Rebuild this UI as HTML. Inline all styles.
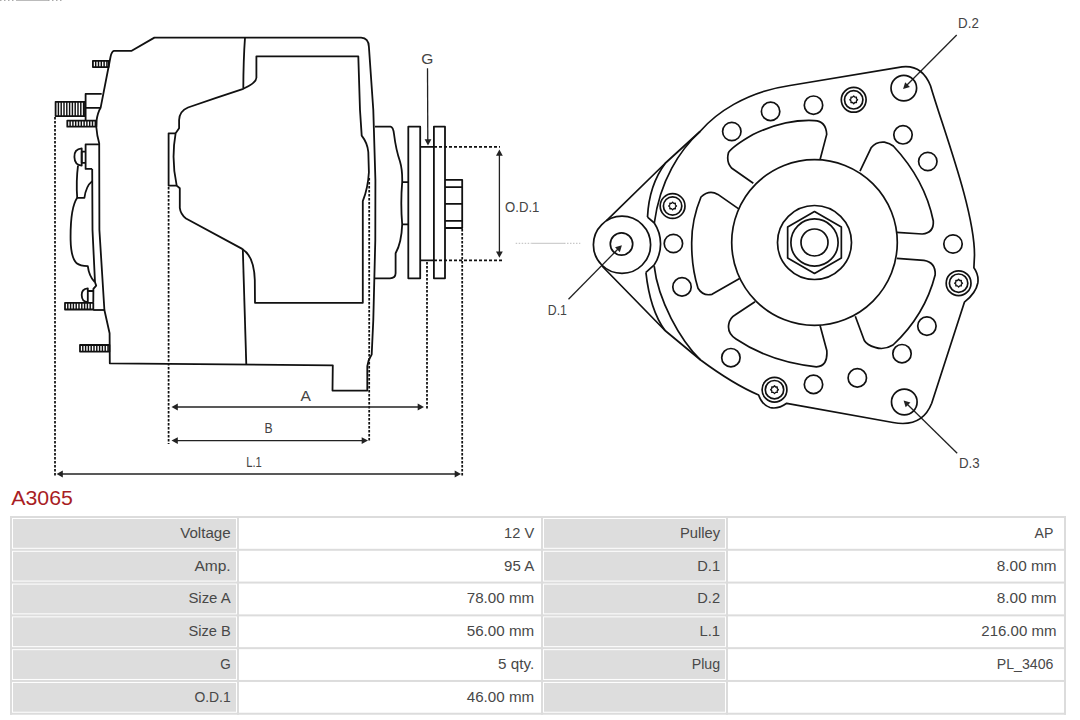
<!DOCTYPE html>
<html><head><meta charset="utf-8"><title>A3065</title>
<style>
html,body{margin:0;padding:0;background:#fff;width:1080px;height:720px;overflow:hidden;font-family:"Liberation Sans",sans-serif;}
svg{position:absolute;left:0;top:0;display:block;}
</style></head><body>
<svg width="1080" height="720" viewBox="0 0 1080 720">
<g fill="none" stroke="#111" stroke-width="1.8" stroke-linejoin="round"><path d="M113.9 50.8 L131.7 50.8 L154.4 37.6 L361.1 37.6 Q368.6 38 368.9 46.7 L373.3 110 L375.4 180 L375.3 240 L373.3 320 L371.7 354.5 Q368 360 367.3 366.2 L367.3 390.6 L332.5 390.6 L332.8 365.3 L109.8 363.3 L109.6 333.3 L104.4 310 L99.4 230 L99.2 143.3 Q97 136 96.3 127 L96.5 121 Q97.5 113 100.6 107.8 L110.5 57 Q111.5 51.5 113.9 50.8 Z"/><path d="M245 37.6 Q243.4 60 243.3 88.6"/><path d="M242.8 248.9 L246.3 364.9"/><path d="M256.4 56.3 L358.3 56.3 L360 110 L361.7 135.6 Q367.5 143 368.3 152 L368.9 172.2 Q368 188 362.8 201.1 L362.8 302.8 L255 302.8 L254.8 280 Q254 256 242.2 248.9 L186 218.5 Q180.5 214 179.8 207.8 L179.8 188.3 L176.7 185.6 Q171 159.5 175.6 133.3 L179.1 128.3 L179.1 120 Q179.5 111 188 107.5 Q215 98 243.3 88.8 Q256.2 83 256.4 77.8 Z"/><path d="M175.6 133.3 L168.6 133.3 L168.6 185.6 L176.7 185.6"/><rect x="92.9" y="60.8" width="15.70" height="6.30" /><path d="M95.70 60.8V67.1M98.50 60.8V67.1M101.30 60.8V67.1M104.10 60.8V67.1M106.90 60.8V67.1" stroke-width="1.45"/><rect x="55.6" y="101.8" width="29.40" height="14.30" /><path d="M58.40 101.8V116.1M61.20 101.8V116.1M64.00 101.8V116.1M66.80 101.8V116.1M69.60 101.8V116.1M72.40 101.8V116.1M75.20 101.8V116.1M78.00 101.8V116.1M80.80 101.8V116.1M83.60 101.8V116.1" stroke-width="1.45"/><rect x="67.3" y="120.6" width="29.00" height="6.10" /><path d="M70.10 120.6V126.7M72.90 120.6V126.7M75.70 120.6V126.7M78.50 120.6V126.7M81.30 120.6V126.7M84.10 120.6V126.7M86.90 120.6V126.7M89.70 120.6V126.7M92.50 120.6V126.7M95.30 120.6V126.7" stroke-width="1.45"/><rect x="65" y="302.8" width="28.30" height="6.70" /><path d="M67.80 302.8V309.5M70.60 302.8V309.5M73.40 302.8V309.5M76.20 302.8V309.5M79.00 302.8V309.5M81.80 302.8V309.5M84.60 302.8V309.5M87.40 302.8V309.5M90.20 302.8V309.5" stroke-width="1.45"/><rect x="80" y="345" width="29.40" height="6.60" /><path d="M82.80 345V351.6M85.60 345V351.6M88.40 345V351.6M91.20 345V351.6M94.00 345V351.6M96.80 345V351.6M99.60 345V351.6M102.40 345V351.6M105.20 345V351.6M108.00 345V351.6" stroke-width="1.45"/><path d="M101.7 93.9 L85.6 93.9 L85.6 120.6 M85 107.8 L100.2 107.8"/><path d="M93.3 310 L104.4 310"/><path d="M99.2 144.4 L85.6 144.4 L85.6 168.9 L92.2 168.9 M85.6 151.7 L81.7 151.7 L81.7 162.8 L85.6 162.8"/><path d="M81.7 148.3 Q74 149 74.4 157 Q74.6 165 81.7 165.6 Z"/><path d="M78 165.6 Q76 181 77.2 197.8 L84.4 197.8 Q86 186 92.2 181.1"/><path d="M92.2 168.9 L92.5 230 L95 282.2 L96.2 285.6 L93.4 288.9 L93.3 302.2"/><path d="M77.2 197.8 Q70.2 208 70.6 240 Q71 258 76.7 263.3 Q80 266 87.8 266.1 Q89 276 94.6 282"/><path d="M87.8 288.3 Q81.5 289 81.7 295 Q81.8 302 87.8 302.2 Z M87.8 291 L93.3 291"/><path d="M375 126.7 L390.5 126.7 Q393.2 127.2 394 134 Q396 150 400 161.5 Q402.5 170 402.2 182.2 Q400.4 203 402.2 224.4 Q401.5 243 395.6 253.3 L395.6 273.3 Q395.5 278.3 390 278.3 L374.8 278.3"/><path d="M402.2 182.2 L408.3 182.2 M402.2 224.4 L408.3 224.4"/><rect x="408.3" y="126.7" width="11.9" height="151.6"/><rect x="433.9" y="126.7" width="11.1" height="151.6"/><path d="M445 179.8 L462.2 179.8 L462.2 228 L445 228 M445 187.2 L462.2 187.2 M445 203.9 L462.2 203.9 M445 220.9 L462.2 220.9"/><path d="M420.2 146.9 L433.9 146.9 M420.2 260.3 L433.9 260.3"/></g><g fill="none" stroke="#111" stroke-width="1.75"><path d="M55 117 V476" stroke-dasharray="2.5 1.5"/><path d="M168.6 187 V444" stroke-dasharray="2.5 1.5"/><path d="M369.2 178 V442" stroke-dasharray="2.5 1.5"/><path d="M427 262 V410" stroke-dasharray="2.5 1.5"/><path d="M462.2 229 V476" stroke-dasharray="2.5 1.5"/><path d="M434 146.9 H500" stroke-dasharray="3 2"/><path d="M434 260.3 H503" stroke-dasharray="3 2"/></g><g fill="none" stroke="#222" stroke-width="1.3"><path d="M427.5 68.3 L427.8 140" /><path d="M428.00 145.50 L424.60 139.20 L431.40 139.20 Z" fill="#222" stroke="none"/><path d="M499.4 152 V255" /><path d="M499.40 149.40 L502.80 155.70 L496.00 155.70 Z" fill="#222" stroke="none"/><path d="M499.40 257.70 L496.00 251.40 L502.80 251.40 Z" fill="#222" stroke="none"/><path d="M174 407 H421" /><path d="M171.50 407.00 L177.80 403.60 L177.80 410.40 Z" fill="#222" stroke="none"/><path d="M424.00 407.00 L417.70 410.40 L417.70 403.60 Z" fill="#222" stroke="none"/><path d="M174 440.6 H365" /><path d="M171.50 440.60 L177.80 437.20 L177.80 444.00 Z" fill="#222" stroke="none"/><path d="M368.00 440.60 L361.70 444.00 L361.70 437.20 Z" fill="#222" stroke="none"/><path d="M59 474 H458" /><path d="M56.50 474.00 L62.80 470.60 L62.80 477.40 Z" fill="#222" stroke="none"/><path d="M461.00 474.00 L454.70 477.40 L454.70 470.60 Z" fill="#222" stroke="none"/><path d="M568.5 299.2 L618 249" /><path d="M621.90 245.30 L619.85 252.16 L615.04 247.35 Z" fill="#222" stroke="none"/><path d="M956.7 35 L906.5 85.5" /><path d="M903.10 89.00 L905.15 82.14 L909.96 86.95 Z" fill="#222" stroke="none"/><path d="M957.2 453.3 L907 404" /><path d="M903.60 400.50 L910.46 402.55 L905.65 407.36 Z" fill="#222" stroke="none"/></g><path d="M515.7 243.3 H531.5 M564 243.3 H580.3" stroke="#bbb" stroke-width="1" stroke-dasharray="1.5 1.5"/><path d="M531.5 243.3 H564" stroke="#c4c4c4" stroke-width="1"/><path d="M0 0.5 H16 M48 0.5 H64" stroke="#aaa" stroke-width="1" stroke-dasharray="1.5 2.5"/><path d="M16 0.5 H48" stroke="#bbb" stroke-width="1"/><g font-family="Liberation Sans, sans-serif" fill="#444"><text x="421.2" y="63.9" font-size="14.5" textLength="12.1" lengthAdjust="spacingAndGlyphs">G</text><text x="505.1" y="212" font-size="14.5" textLength="34.3" lengthAdjust="spacingAndGlyphs">O.D.1</text><text x="547.8" y="315.1" font-size="14.5" textLength="19.1" lengthAdjust="spacingAndGlyphs">D.1</text><text x="300.4" y="401.3" font-size="14.5" textLength="10.4" lengthAdjust="spacingAndGlyphs">A</text><text x="264.4" y="433.4" font-size="14.5" textLength="8.1" lengthAdjust="spacingAndGlyphs">B</text><text x="246.2" y="466.5" font-size="14.5" textLength="15.6" lengthAdjust="spacingAndGlyphs">L.1</text><text x="958.1" y="27.9" font-size="14.5" textLength="20.7" lengthAdjust="spacingAndGlyphs">D.2</text><text x="958.9" y="468.3" font-size="14.5" textLength="20.7" lengthAdjust="spacingAndGlyphs">D.3</text></g><g fill="none" stroke="#111" stroke-width="1.7" stroke-linejoin="round"><circle cx="814.5" cy="242.5" r="82.8"/><circle cx="814.5" cy="242.5" r="37"/><circle cx="814.5" cy="242.5" r="23.6"/><circle cx="814.5" cy="242.5" r="13.5"/><path d="M814.50 211.50 L841.35 227.00 L841.35 258.00 L814.50 273.50 L787.65 258.00 L787.65 227.00 Z"/><path d="M753.3 183.3 L731.5 168 Q726 162 728.5 152.5 Q733 146 753 134.5 Q785 119 814.4 120.6 Q826 121 826.7 134.4 L820.1 159.5"/><path d="M860 171.1 L871.1 147.8 Q876 141.5 884.4 142.2 Q890 143.5 893.3 146 Q925 180 933.3 221 Q934 233 922.2 234 L896.7 232.3"/><path d="M896.8 258.4 L923.9 260.3 Q935.6 262 935.2 274.7 Q925 315 893 345 Q884 350.5 875.1 347.4 Q867 345 864.3 340.5 L855.3 316.2"/><path d="M820 325.3 L826.8 350.5 Q828 366.5 816.4 366.8 Q770 362 736 339 Q727 333 728.8 324 Q730 318 735 315 L755 301.8"/><path d="M738.7 208.9 L717.9 194.4 Q709 189.5 701 197 Q691.5 220 691.7 243.2 Q691.5 267 698 288.3 Q703 296.5 712 294.3 L739.6 278.4"/><circle cx="731.8" cy="131.5" r="9.2"/><circle cx="770.6" cy="111.4" r="9.2"/><circle cx="813.5" cy="105.2" r="9.2"/><circle cx="903" cy="134.8" r="9.2"/><circle cx="927.8" cy="161.5" r="9.2"/><circle cx="953" cy="244" r="9.2"/><circle cx="926.9" cy="326.1" r="9.2"/><circle cx="902" cy="353.7" r="9.2"/><circle cx="857.3" cy="377.9" r="9.2"/><circle cx="813.5" cy="384.4" r="9.2"/><circle cx="730.9" cy="357.7" r="9.2"/><circle cx="682" cy="286.9" r="9.2"/><circle cx="673.4" cy="243.5" r="9.2"/><circle cx="903.8" cy="88.1" r="12.8"/><circle cx="904.3" cy="402" r="12.8"/><circle cx="622" cy="244.8" r="28.6"/><circle cx="621.5" cy="244" r="11.2"/><circle cx="853.7" cy="99.8" r="12.4"/><circle cx="853.7" cy="99.8" r="9.2"/><path d="M853.70 95.90 L854.81 97.12 L856.46 97.04 L856.38 98.69 L857.60 99.80 L856.38 100.91 L856.46 102.56 L854.81 102.48 L853.70 103.70 L852.59 102.48 L850.94 102.56 L851.02 100.91 L849.80 99.80 L851.02 98.69 L850.94 97.04 L852.59 97.12 Z" stroke-width="1.3"/><circle cx="958.6" cy="283.2" r="12.4"/><circle cx="958.6" cy="283.2" r="9.2"/><path d="M958.60 279.30 L959.71 280.52 L961.36 280.44 L961.28 282.09 L962.50 283.20 L961.28 284.31 L961.36 285.96 L959.71 285.88 L958.60 287.10 L957.49 285.88 L955.84 285.96 L955.92 284.31 L954.70 283.20 L955.92 282.09 L955.84 280.44 L957.49 280.52 Z" stroke-width="1.3"/><circle cx="774.5" cy="389.7" r="12.4"/><circle cx="774.5" cy="389.7" r="9.2"/><path d="M774.50 385.80 L775.61 387.02 L777.26 386.94 L777.18 388.59 L778.40 389.70 L777.18 390.81 L777.26 392.46 L775.61 392.38 L774.50 393.60 L773.39 392.38 L771.74 392.46 L771.82 390.81 L770.60 389.70 L771.82 388.59 L771.74 386.94 L773.39 387.02 Z" stroke-width="1.3"/><circle cx="672.6" cy="206" r="12.4"/><circle cx="672.6" cy="206" r="9.2"/><path d="M672.60 202.10 L673.71 203.32 L675.36 203.24 L675.28 204.89 L676.50 206.00 L675.28 207.11 L675.36 208.76 L673.71 208.68 L672.60 209.90 L671.49 208.68 L669.84 208.76 L669.92 207.11 L668.70 206.00 L669.92 204.89 L669.84 203.24 L671.49 203.32 Z" stroke-width="1.3"/><path d="M606.5 220.6 L665.5 163 L700 131.5 C715 114 745 92 790 85.5 L902 66.8 Q922 64.5 930.5 85.7 C943.1 128.9 974.5 210 974.5 255 L973.9 267.8 Q979 275 977.8 283 Q976 293 964.4 302.2 L931.7 403.3 Q922 428 893 422.5 L786.7 403.3 Q778 409.5 770 407.5 Q762 405 758.6 395 Q733 384 700.6 360 L665 330.5 L602 266"/><path d="M665.5 163 Q649 185 647.5 217.1"/><path d="M700 131.5 C680 150 660 180 654.3 223"/><path d="M645.9 272.4 Q650 310 665 330.5"/><path d="M654.2 266.2 C658 300 680 340 700.6 360"/><path d="M647.5 217.1 L654.3 223 A38 38 0 0 1 654 265.2 L645.9 272.4"/></g>
<rect x="13.00" y="519.00" width="223.00" height="28.79" fill="#dddddd"/><rect x="544.00" y="519.00" width="181.00" height="28.79" fill="#dddddd"/><rect x="13.00" y="551.79" width="223.00" height="28.79" fill="#dddddd"/><rect x="544.00" y="551.79" width="181.00" height="28.79" fill="#dddddd"/><rect x="13.00" y="584.58" width="223.00" height="28.79" fill="#dddddd"/><rect x="544.00" y="584.58" width="181.00" height="28.79" fill="#dddddd"/><rect x="13.00" y="617.37" width="223.00" height="28.79" fill="#dddddd"/><rect x="544.00" y="617.37" width="181.00" height="28.79" fill="#dddddd"/><rect x="13.00" y="650.16" width="223.00" height="28.79" fill="#dddddd"/><rect x="544.00" y="650.16" width="181.00" height="28.79" fill="#dddddd"/><rect x="13.00" y="682.95" width="223.00" height="28.79" fill="#dddddd"/><rect x="544.00" y="682.95" width="181.00" height="28.79" fill="#dddddd"/><rect x="10" y="516.00" width="2" height="198.74" fill="#dcdcdc"/><rect x="237" y="516.00" width="2" height="198.74" fill="#dcdcdc"/><rect x="541" y="516.00" width="2" height="198.74" fill="#dcdcdc"/><rect x="726" y="516.00" width="2" height="198.74" fill="#dcdcdc"/><rect x="1064" y="516.00" width="2" height="198.74" fill="#dcdcdc"/><rect x="10" y="516.00" width="1056" height="2" fill="#dcdcdc"/><rect x="10" y="548.79" width="1056" height="2" fill="#dcdcdc"/><rect x="10" y="581.58" width="1056" height="2" fill="#dcdcdc"/><rect x="10" y="614.37" width="1056" height="2" fill="#dcdcdc"/><rect x="10" y="647.16" width="1056" height="2" fill="#dcdcdc"/><rect x="10" y="679.95" width="1056" height="2" fill="#dcdcdc"/><rect x="10" y="712.74" width="1056" height="2" fill="#dcdcdc"/><g font-family="Liberation Sans, sans-serif" font-size="14" fill="#484848"><text x="180.2" y="537.6" textLength="50.5" lengthAdjust="spacingAndGlyphs">Voltage</text><text x="504.1" y="537.6" textLength="30.1" lengthAdjust="spacingAndGlyphs">12 V</text><text x="679.9" y="537.6" textLength="40.2" lengthAdjust="spacingAndGlyphs">Pulley</text><text x="1034.6" y="537.6" textLength="18.8" lengthAdjust="spacingAndGlyphs">AP</text><text x="194.4" y="570.5" textLength="36.3" lengthAdjust="spacingAndGlyphs">Amp.</text><text x="504.1" y="570.5" textLength="30.1" lengthAdjust="spacingAndGlyphs">95 A</text><text x="697.3" y="570.5" textLength="22.8" lengthAdjust="spacingAndGlyphs">D.1</text><text x="996.8" y="570.5" textLength="59.7" lengthAdjust="spacingAndGlyphs">8.00 mm</text><text x="188.4" y="603.3" textLength="42.3" lengthAdjust="spacingAndGlyphs">Size A</text><text x="466.7" y="603.3" textLength="67.5" lengthAdjust="spacingAndGlyphs">78.00 mm</text><text x="697.3" y="603.3" textLength="22.8" lengthAdjust="spacingAndGlyphs">D.2</text><text x="996.8" y="603.3" textLength="59.7" lengthAdjust="spacingAndGlyphs">8.00 mm</text><text x="188.4" y="636.2" textLength="42.3" lengthAdjust="spacingAndGlyphs">Size B</text><text x="466.7" y="636.2" textLength="67.5" lengthAdjust="spacingAndGlyphs">56.00 mm</text><text x="699.5" y="636.2" textLength="20.6" lengthAdjust="spacingAndGlyphs">L.1</text><text x="981.3" y="636.2" textLength="75.2" lengthAdjust="spacingAndGlyphs">216.00 mm</text><text x="220.2" y="669.0" textLength="10.5" lengthAdjust="spacingAndGlyphs">G</text><text x="498.1" y="669.0" textLength="36.1" lengthAdjust="spacingAndGlyphs">5 qty.</text><text x="691.7" y="669.0" textLength="28.4" lengthAdjust="spacingAndGlyphs">Plug</text><text x="996.8" y="669.0" textLength="56.6" lengthAdjust="spacingAndGlyphs">PL_3406</text><text x="194.4" y="701.9" textLength="36.3" lengthAdjust="spacingAndGlyphs">O.D.1</text><text x="466.7" y="701.9" textLength="67.5" lengthAdjust="spacingAndGlyphs">46.00 mm</text></g><text x="11.3" y="505.4" font-family="Liberation Sans, sans-serif" font-size="20.5" fill="#a81d24" textLength="61.6" lengthAdjust="spacingAndGlyphs">A3065</text>
</svg>
</body></html>
